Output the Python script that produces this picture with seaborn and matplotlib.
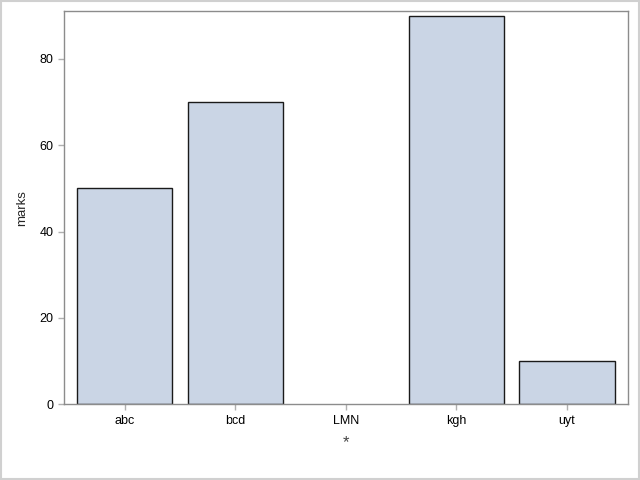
import pandas as pd
import matplotlib.pyplot as plt
import seaborn as sns

# values (LMN has no bar)
names = ["abc", "bcd", "LMN", "kgh", "uyt"]
marks = [50, 70, None, 90, 10]

data = pd.DataFrame({"name": names, "marks": marks})

sns.set_style("white")
plt.rcParams["font.family"] = ["Liberation Sans", "DejaVu Sans"]

fig = plt.figure(figsize=(6.4, 4.8), dpi=100)
ax = fig.add_axes([0.1, 0.158, 0.881, 0.819])

sns.barplot(
    data=data,
    x="name",
    y="marks",
    order=names,
    color="#CAD5E5",
    saturation=1,
    width=0.86,
    edgecolor="#1a1a1a",
    linewidth=1,
    ax=ax,
)

ax.set_xlim(-0.55, 4.55)
ax.set_ylim(0, 91.1)
ax.set_yticks([0, 20, 40, 60, 80])

for s in ax.spines.values():
    s.set_color("#8c8c8c")
    s.set_linewidth(1)

ax.tick_params(axis="both", length=4, width=1, color="#b0b0b0",
               labelsize=9, labelcolor="black", direction="out", bottom=True, left=True)
ax.set_xlabel("*", fontsize=12, color="#444444", labelpad=6)
ax.set_ylabel("marks", fontsize=9.5, labelpad=8)

# light gray frame around the whole picture
fig.patches.append(plt.Rectangle((0.002, 0.002), 0.996, 0.996, transform=fig.transFigure,
                                 fill=False, edgecolor="#d0d0d0", linewidth=1.5))

plt.savefig("out.png", dpi=100)
plt.close()
